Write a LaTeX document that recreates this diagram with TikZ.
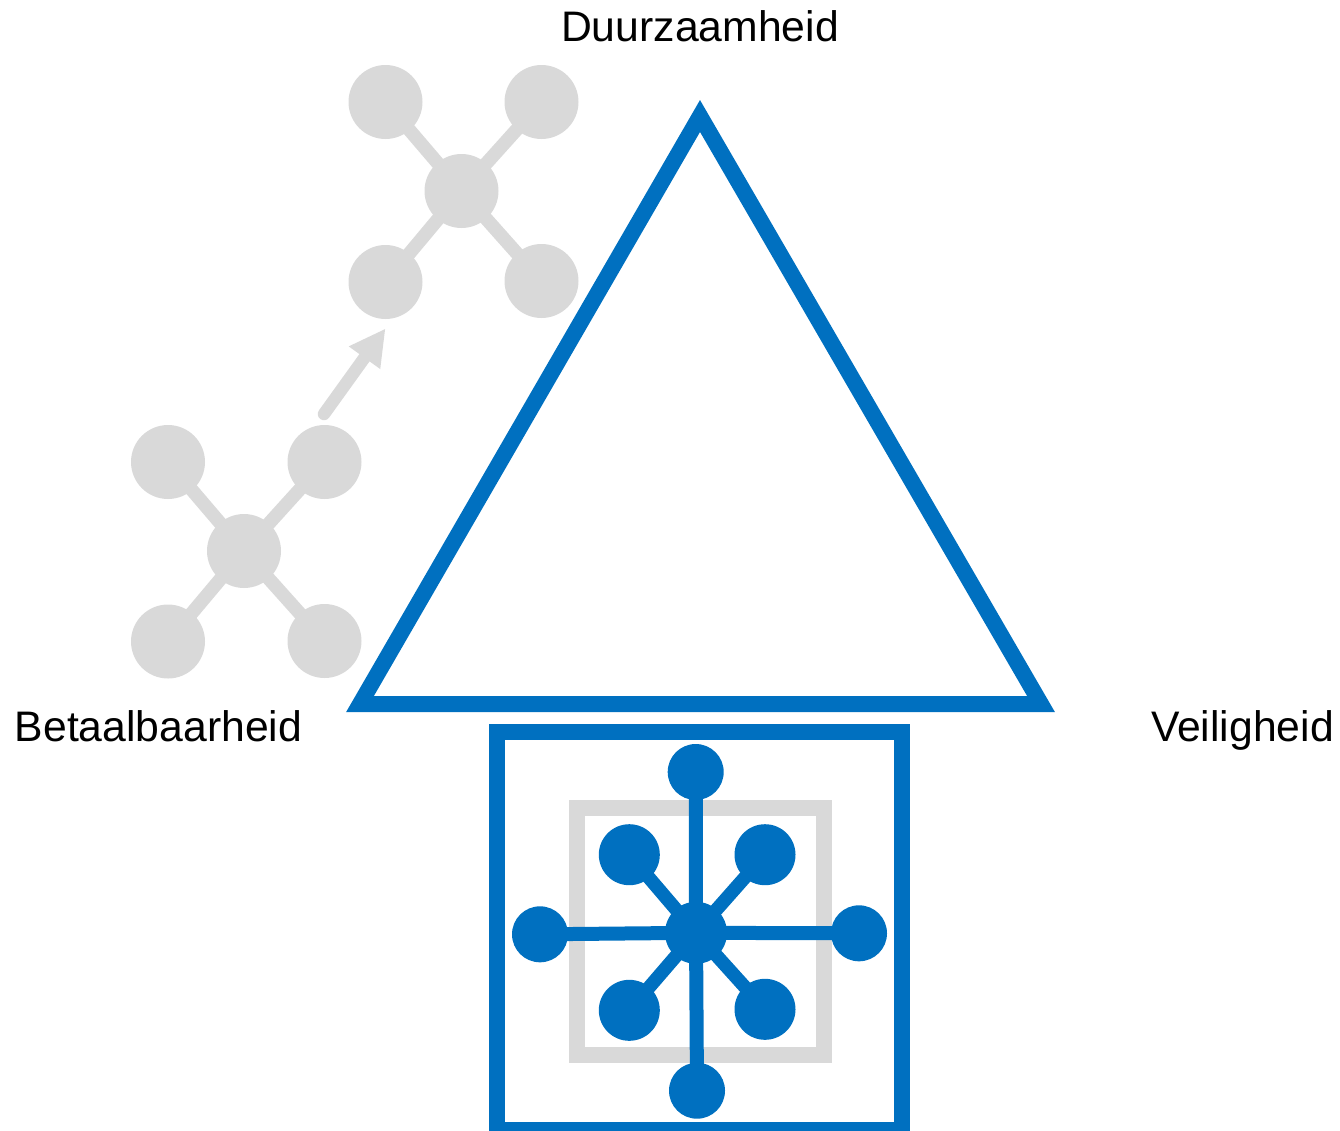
\documentclass[tikz,border=0pt]{standalone}
\usepackage{fontspec}
\setmainfont{Liberation Sans}
\usetikzlibrary{arrows.meta}
\definecolor{mainblue}{HTML}{0070C0}
\definecolor{softgray}{HTML}{D9D9D9}
\tikzset{graydot/.style={shape=circle,minimum size=74pt,inner sep=0pt,outer sep=0pt,fill=softgray},
        bluedot/.style={shape=circle,minimum size=#1,inner sep=0pt,outer sep=0pt,fill=mainblue},
        grayedge/.style={draw=softgray,line width=13.5pt},
        blueedge/.style={draw=mainblue,line width=#1},
        corner/.style={font=\fontsize{42.7pt}{50pt}\selectfont,anchor=base,inner sep=0pt}}

\begin{document}
\begin{tikzpicture}[x=1pt,y=-1pt]
  \useasboundingbox (0,0) rectangle (1340,1130);
  % triangle and labels
  \draw[draw=mainblue,line width=16pt,miter limit=10] (700,116)--(1041,704)--(360,704)--cycle;
  \node[corner] (duurzaam) at (700,41) {Duurzaamheid};
  \node[corner] (betaal) at (158.5,741) {Betaalbaarheid};
  \node[corner] (veilig) at (1242.5,741) {Veiligheid};
  % lower gray molecule
  \node[graydot] (lowc) at (244,551) {};
  \node[graydot] (lowa) at (168,462) {};
  \node[graydot] (lowb) at (324.5,462) {};
  \node[graydot] (lowd) at (168,641.5) {};
  \node[graydot] (lowe) at (324.5,641) {};
  \foreach \n in {lowa,lowb,lowd,lowe}
    \draw[grayedge] (lowc.center)--(\n.center);
  % upper gray molecule
  \node[graydot] (upc) at (461.5,191) {};
  \node[graydot] (upa) at (385.5,102) {};
  \node[graydot] (upb) at (541.5,102) {};
  \node[graydot] (upd) at (385.5,282) {};
  \node[graydot] (upe) at (541.5,281) {};
  \foreach \n in {upa,upb,upd,upe}
    \draw[grayedge] (upc.center)--(\n.center);
  % arrow between the two
  \coordinate (arrowfrom) at (324,414);
  \coordinate (arrowto) at (385.5,328.5);
  \draw[draw=softgray,fill=softgray,line width=12.5pt,line cap=round,
        -{Triangle[length=36pt,width=36pt]}] (arrowfrom)--(arrowto);
  % house with the blue molecule
  \draw[draw=softgray,line width=16pt] (577,808) rectangle (824,1055);
  \draw[draw=mainblue,line width=16pt] (497,732) rectangle (902,1130);
  \node[bluedot=62pt] (hub) at (696,932.8) {};
  \node[bluedot=56pt] (top) at (695.7,772) {};
  \node[bluedot=56pt] (bottom) at (697,1090.7) {};
  \node[bluedot=56pt] (left) at (540,934.3) {};
  \node[bluedot=56pt] (right) at (859,933.3) {};
  \node[bluedot=61pt] (ne) at (765,854.7) {};
  \node[bluedot=61pt] (nw) at (629.3,854.7) {};
  \node[bluedot=61pt] (se) at (765,1009.3) {};
  \node[bluedot=61pt] (sw) at (629.3,1010.3) {};
  \foreach \n in {top,bottom,left,right}
    \draw[blueedge=14pt] (hub.center)--(\n.center);
  \foreach \n in {ne,nw,se,sw}
    \draw[blueedge=13.5pt] (hub.center)--(\n.center);
\end{tikzpicture}
\end{document}
